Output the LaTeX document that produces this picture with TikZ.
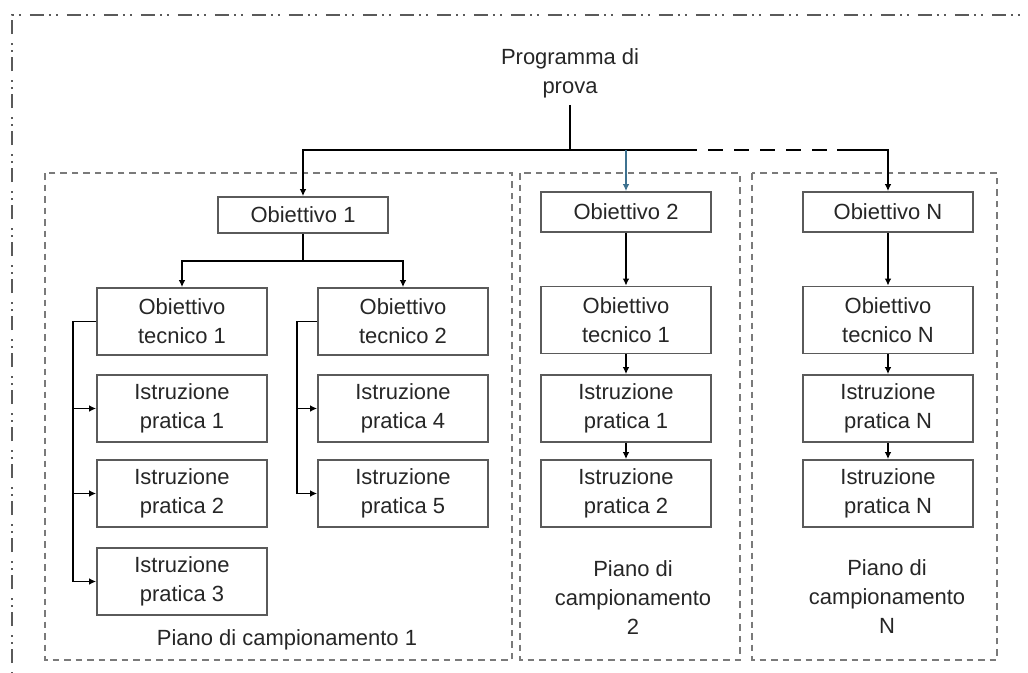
\documentclass[tikz,border=0pt]{standalone}
\usepackage{fontspec}
\setmainfont{Liberation Sans}
\usetikzlibrary{arrows.meta}
\definecolor{boxgray}{HTML}{5A5A5A}
\definecolor{panelgray}{HTML}{7A7A7A}
\definecolor{txtgray}{HTML}{262626}
\definecolor{linkblue}{HTML}{3E7290}
\begin{document}
\begin{tikzpicture}[>={Latex[length=4pt,width=3.8pt]}]
  \tikzstyle{every node}=[font=\fontsize{12.5}{16.5}\selectfont, text=txtgray]
  \tikzstyle{goalbox}=[draw=boxgray, line width=1pt, minimum width=3.4cm, align=center]
  \tikzstyle{tallbox}=[goalbox, minimum height=1.34cm]
  \tikzstyle{conn}=[line width=1pt, black]
  \tikzstyle{panel}=[draw=panelgray, line width=1.4pt, dash pattern=on 0.13cm off 0.1cm]
  \useasboundingbox (0,0) rectangle (20.56,-13.44);

  %outer frame, cut at the right and bottom
  \draw[boxgray, line width=1.4pt,
    dash pattern=on 0.28cm off 0.1cm on 0.04cm off 0.1cm on 0.04cm off 0.18cm]
  (0.24,-14) -- (0.24,-0.3) -- (21,-0.3);

  %the three sampling plans
  \draw[panel] (0.9,-3.46) rectangle (10.24,-13.2);
  \draw[panel] (10.4,-3.46) rectangle (14.8,-13.2);
  \draw[panel] (15.04,-3.46) rectangle (19.94,-13.2);

  %top node and its bus
  \node (prog) at (11.4,-1.46) [align=center] {Programma di\\prova};
  \coordinate (split) at (11.4,-3.0);
  \coordinate (dashA) at (13.64,-3.0);
  \coordinate (dashB) at (16.74,-3.0);

  %goals
  \node[goalbox, minimum height=0.72cm] (ob1) at (6.06,-4.3) {Obiettivo 1};
  \node[goalbox, minimum height=0.8cm] (ob2) at (12.52,-4.24) {Obiettivo 2};
  \node[goalbox, minimum height=0.8cm] (obN) at (17.76,-4.24) {Obiettivo N};

  \draw[conn] (prog.south) ++(0,-0.02) -- (split);
  \draw[conn, ->] (split) -| (ob1);
  \draw[conn] (split) -- (dashA);
  \draw[conn, dashed, dash pattern=on 0.3cm off 0.22cm] (dashA) -- (dashB);
  \draw[conn, ->] (dashB) -| (obN);
  \draw[line width=1pt, linkblue, ->] (ob2.north |- split) -- (ob2);

  %plan 1
  \coordinate (ob1split) at (6.06,-5.22);
  \node[tallbox] (ot1) at (3.64,-6.43) {Obiettivo\\tecnico 1};
  \node[tallbox] (ot2) at (8.06,-6.43) {Obiettivo\\tecnico 2};
  \node[tallbox] (ip1) at (3.64,-8.17) {Istruzione\\pratica 1};
  \node[tallbox] (ip2) at (3.64,-9.87) {Istruzione\\pratica 2};
  \node[tallbox] (ip3) at (3.64,-11.63) {Istruzione\\pratica 3};
  \node[tallbox] (ip4) at (8.06,-8.17) {Istruzione\\pratica 4};
  \node[tallbox] (ip5) at (8.06,-9.87) {Istruzione\\pratica 5};
  \node (lab1) at (5.74,-12.8) {Piano di campionamento 1};

  \draw[conn] (ob1) -- (ob1split);
  \draw[conn, ->] (ob1split) -| (ot1);
  \draw[conn, ->] (ob1split) -| (ot2);

  \coordinate (rail1) at (1.46,-6.43);
  \coordinate (rail2) at (5.94,-6.43);
  \foreach \b in {ip1,ip2,ip3}
    \draw[conn, ->] (ot1.west) -- (rail1) |- (\b);
  \foreach \b in {ip4,ip5}
    \draw[conn, ->] (ot2.west) -- (rail2) |- (\b);

  %plan 2
  \node[tallbox] (otb) at (12.52,-6.4) {Obiettivo\\tecnico 1};
  \node[tallbox] (ipb1) at (12.52,-8.17) {Istruzione\\pratica 1};
  \node[tallbox] (ipb2) at (12.52,-9.87) {Istruzione\\pratica 2};
  \node[align=center] (lab2) at (12.66,-11.96) {Piano di\\campionamento\\2};
  \draw[conn, ->] (ob2) -- (otb);
  \draw[conn, ->] (otb) -- (ipb1);
  \draw[conn, ->] (ipb1) -- (ipb2);

  %plan N
  \node[tallbox] (otN) at (17.76,-6.4) {Obiettivo\\tecnico N};
  \node[tallbox] (ipN1) at (17.76,-8.17) {Istruzione\\pratica N};
  \node[tallbox] (ipN2) at (17.76,-9.87) {Istruzione\\pratica N};
  \node[align=center] (labN) at (17.74,-11.94) {Piano di\\campionamento\\N};
  \draw[conn, ->] (obN) -- (otN);
  \draw[conn, ->] (otN) -- (ipN1);
  \draw[conn, ->] (ipN1) -- (ipN2);
\end{tikzpicture}
\end{document}
